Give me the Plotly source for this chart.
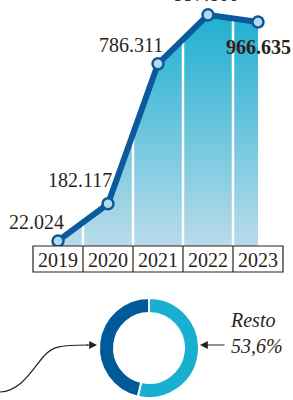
import plotly.graph_objects as go

years = [2019, 2020, 2021, 2022, 2023]
values = [22024, 182117, 786311, 997800, 966635]
value_labels = ["22.024", "182.117", "786.311", "997.800", "966.635"]
bold_label = [False, False, False, False, True]
label_shift_x = [-22, -28, -27, -2, 0]
label_shift_y = [19, 24, 19, 21, -25]

donut_labels = ["Resto", "Otros"]
donut_values = [53.6, 46.4]
donut_colors = ["#19afd0", "#005a9a"]

W, H = 293, 400
ink = "#2b1f1a"
line_blue = "#0b5b9c"
font_serif = "Liberation Serif"

def px(x):
    return x / W

def py(y):
    return 1 - y / H

fig = go.Figure()

# gradient area
fig.add_trace(go.Scatter(
    x=years, y=values, mode="lines", line=dict(width=0),
    fill="tozeroy",
    fillgradient=dict(type="vertical",
                      colorscale=[[0, "#b9dbea"], [1, "#1fb0d1"]]),
    hoverinfo="skip", showlegend=False, xaxis="x", yaxis="y"))

# white column separators (drawn under the line)
mids = [(a + b) / 2 for a, b in zip(years, years[1:])]
sx, sy = [], []
for m in mids:
    sx += [m, m, None]
    sy += [0, 1.2e6, None]
fig.add_trace(go.Scatter(x=sx, y=sy, mode="lines",
                         line=dict(color="white", width=2.5),
                         hoverinfo="skip", showlegend=False))

# main line
fig.add_trace(go.Scatter(
    x=years, y=values, mode="lines+markers",
    line=dict(color=line_blue, width=6),
    marker=dict(size=11, color="#b7d9ec", line=dict(color=line_blue, width=2.5)),
    showlegend=False))

# donut
fig.add_trace(go.Pie(
    labels=donut_labels, values=donut_values, hole=0.7, sort=False,
    direction="clockwise", rotation=0,
    marker=dict(colors=donut_colors, line=dict(color="white", width=2)),
    textinfo="none", showlegend=False,
    domain=dict(x=[px(99), px(199)], y=[py(398), py(298)])))

annotations = []
for yr, v, t, b, dx, dy in zip(years, values, value_labels, bold_label,
                               label_shift_x, label_shift_y):
    annotations.append(dict(
        x=yr, y=v, xref="x", yref="y",
        text=f"<b>{t}</b>" if b else t, showarrow=False,
        xshift=dx, yshift=dy,
        font=dict(family=font_serif, size=20, color=ink)))

# donut label
annotations.append(dict(
    x=px(228), y=py(333), xref="paper", yref="paper",
    text=f"<i>{donut_labels[0]}</i><br><i>{str(donut_values[0]).replace('.', ',')}%</i>",
    showarrow=False, xanchor="left", yanchor="middle", align="left",
    font=dict(family=font_serif, size=20, color=ink)))
# right arrow
annotations.append(dict(
    x=px(200), y=py(345), xref="paper", yref="paper", text="",
    showarrow=True, ax=26, ay=0, arrowhead=2, arrowsize=1.3,
    arrowwidth=1.2, arrowcolor=ink))
# left curvy arrow head
annotations.append(dict(
    x=px(97), y=py(345), xref="paper", yref="paper", text="",
    showarrow=True, ax=-12, ay=0, arrowhead=2, arrowsize=1.3,
    arrowwidth=1.2, arrowcolor=ink))

shapes = []
# year table
shapes.append(dict(type="rect", xref="x", yref="paper",
                   x0=years[0] - 0.5, x1=years[-1] + 0.5,
                   y0=py(272), y1=py(246),
                   line=dict(color=ink, width=1.2), layer="above"))
for m in mids:
    shapes.append(dict(type="line", xref="x", yref="paper",
                       x0=m, x1=m, y0=py(272), y1=py(246),
                       line=dict(color=ink, width=1.2), layer="above"))

def P(x, y):
    return f"{px(x):.4f},{py(y):.4f}"

path = (f"M {P(0, 392)} C {P(22, 391)} {P(33, 368)} {P(44, 356)} "
        f"C {P(52, 347)} {P(58, 345)} {P(88, 345)}")
shapes.append(dict(type="path", xref="paper", yref="paper", path=path,
                   line=dict(color=ink, width=1.2)))

fig.update_layout(
    width=W, height=H, margin=dict(l=0, r=0, t=0, b=0),
    paper_bgcolor="white", plot_bgcolor="white",
    xaxis=dict(range=[years[0] - 58 / 50, years[0] + (W - 58) / 50],
               domain=[0, 1], tickvals=years, ticktext=[str(y) for y in years],
               showgrid=False, zeroline=False, showline=False, ticks="",
               tickfont=dict(family=font_serif, size=20, color=ink),
               ticklabelstandoff=0, fixedrange=True),
    yaxis=dict(range=[0, 1062000], domain=[py(246), 1],
               visible=False, fixedrange=True),
    annotations=annotations, shapes=shapes,
)

fig.write_html("out.html", config={"displayModeBar": False},
               post_script="document.body.style.margin='0';document.body.style.overflow='hidden';")
